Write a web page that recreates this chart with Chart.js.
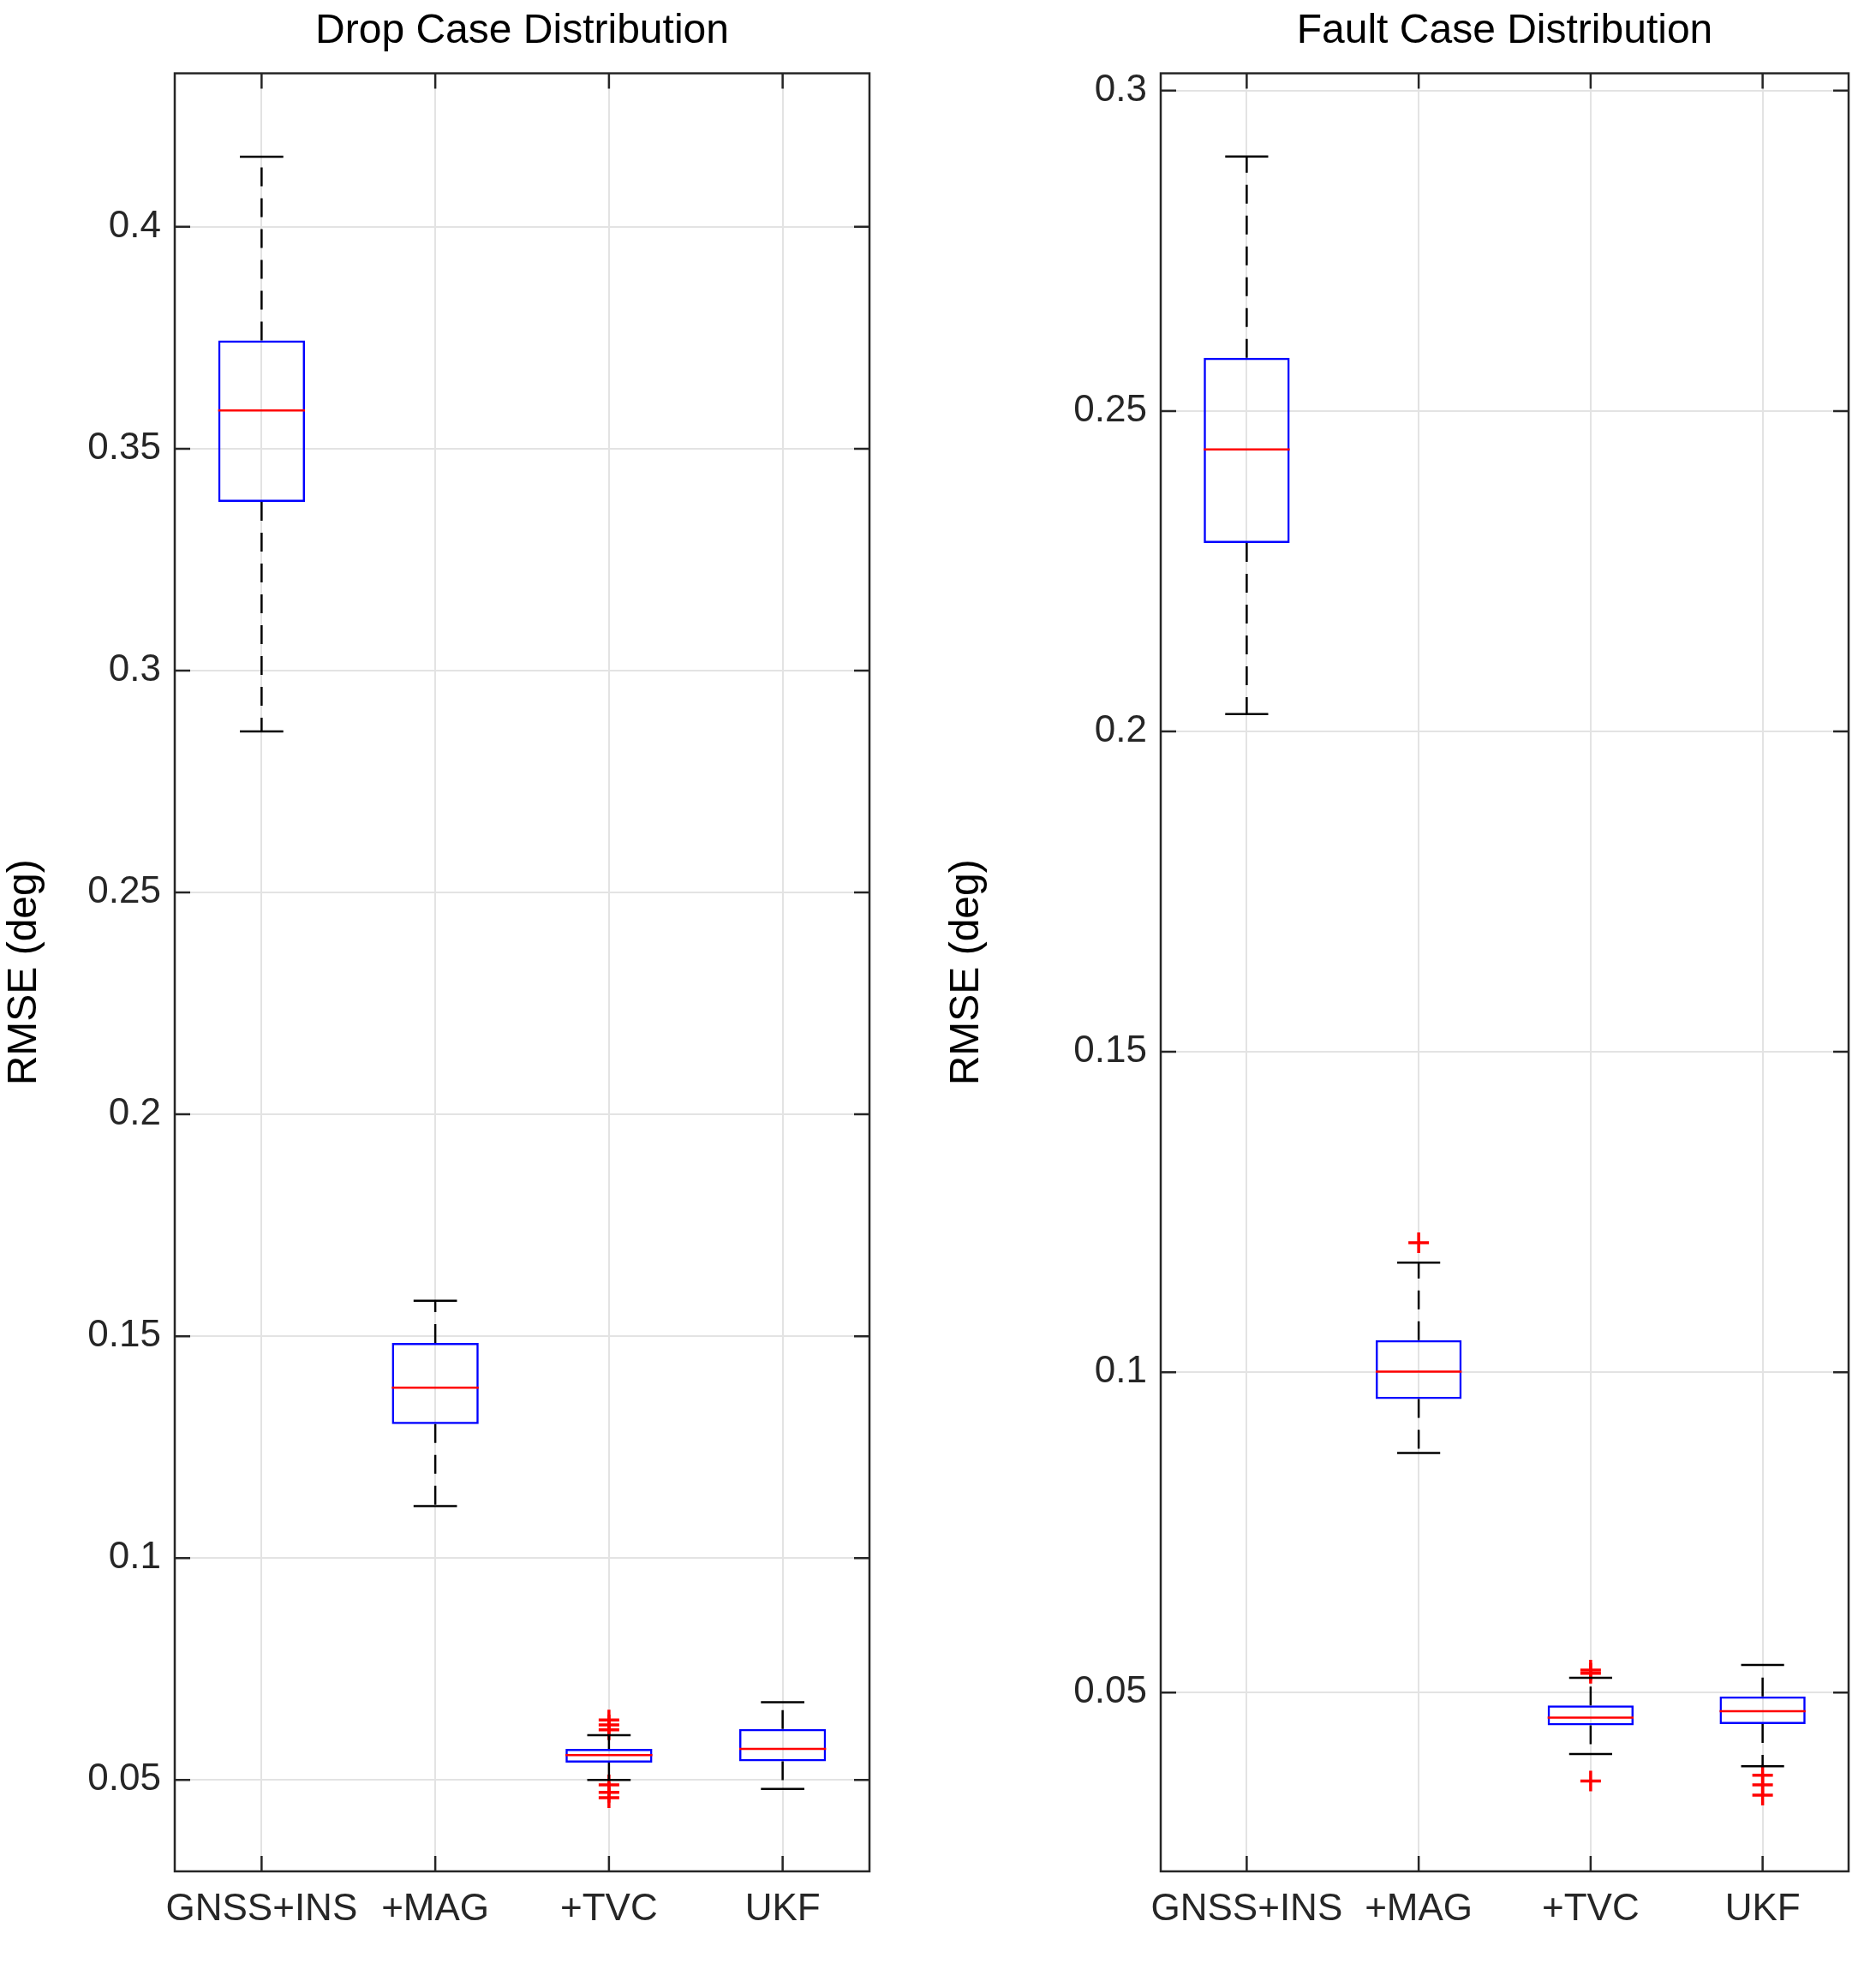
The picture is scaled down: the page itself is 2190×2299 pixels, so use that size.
<!DOCTYPE html>
<html>
<head>
<meta charset="utf-8">
<script src="https://cdn.jsdelivr.net/npm/chart.js@4.4.1/dist/chart.umd.min.js"></script>
<style>
  body { margin: 0; background: #fff; }
  #wrap { position: relative; width: 2190px; height: 2299px; }
  .panel { position: absolute; top: 0; height: 2299px; }
</style>
</head>
<body>
<div id="wrap">
  <div class="panel" style="left:0;width:1040px"><canvas id="dropChart"></canvas></div>
  <div class="panel" style="left:1100px;width:1090px"><canvas id="faultChart"></canvas></div>
</div>
<script>
const categories = ['GNSS+INS', '+MAG', '+TVC', 'UKF'];

// Drop case: [lowWhisker, q1, median, q3, highWhisker]
const dropLow = [0.2863, 0.1117, 0.0500, 0.0480];
const dropQ1 = [0.3380, 0.1302, 0.0539, 0.0542];
const dropMedian = [0.3586, 0.1384, 0.0556, 0.0570];
const dropQ3 = [0.3744, 0.1485, 0.0570, 0.0615];
const dropHigh = [0.4158, 0.1580, 0.0601, 0.0675];
const dropOutliers = [
  ['+TVC', 0.0635], ['+TVC', 0.0624], ['+TVC', 0.0613],
  ['+TVC', 0.0489], ['+TVC', 0.0472], ['+TVC', 0.0460]
];

// Fault case
const faultLow = [0.2027, 0.0874, 0.0404, 0.0385];
const faultQ1 = [0.2294, 0.0958, 0.0449, 0.0451];
const faultMedian = [0.2440, 0.1001, 0.0461, 0.0471];
const faultQ3 = [0.2583, 0.1050, 0.0480, 0.0494];
const faultHigh = [0.2897, 0.1171, 0.0523, 0.0543];
const faultOutliers = [
  ['+MAG', 0.1202],
  ['+TVC', 0.0535], ['+TVC', 0.0530], ['+TVC', 0.0362],
  ['UKF', 0.0371], ['UKF', 0.0356], ['UKF', 0.0340]
];

const yTicks = [0.05, 0.1, 0.15, 0.2, 0.25, 0.3, 0.35, 0.4];
const FONT = "'Liberation Sans', Arial, sans-serif";

// whiskers, caps, medians and the MATLAB-style frame
const boxPlugin = {
  id: 'boxExtras',
  afterDatasetsDraw(chart) {
    const c = chart.ctx, ca = chart.chartArea;
    const xs = chart.scales.x, ys = chart.scales.y;
    const st = chart.options.plugins.boxExtras;
    const bars = chart.getDatasetMeta(0).data;
    c.save();
    bars.forEach((bar, i) => {
      const x = bar.x, hw = bar.width / 2;
      const yq1 = ys.getPixelForValue(st.q1[i]), yq3 = ys.getPixelForValue(st.q3[i]);
      const yLo = ys.getPixelForValue(st.low[i]), yHi = ys.getPixelForValue(st.high[i]);
      const yMed = ys.getPixelForValue(st.median[i]);
      c.strokeStyle = '#000'; c.lineWidth = 2.5;
      c.setLineDash([22, 14]);
      c.beginPath();
      c.moveTo(x, yq3); c.lineTo(x, yHi);
      c.moveTo(x, yq1); c.lineTo(x, yLo);
      c.stroke();
      c.setLineDash([]);
      c.beginPath();
      c.moveTo(x - hw / 2, yHi); c.lineTo(x + hw / 2, yHi);
      c.moveTo(x - hw / 2, yLo); c.lineTo(x + hw / 2, yLo);
      c.stroke();
      c.strokeStyle = '#ff0000';
      c.beginPath();
      c.moveTo(x - hw, yMed); c.lineTo(x + hw, yMed);
      c.stroke();
    });
    // frame and inward ticks
    c.strokeStyle = '#262626'; c.lineWidth = 2.5;
    c.strokeRect(ca.left, ca.top, ca.right - ca.left, ca.bottom - ca.top);
    c.beginPath();
    categories.forEach((_, i) => {
      const x = xs.getPixelForValue(i);
      c.moveTo(x, ca.bottom); c.lineTo(x, ca.bottom - 18);
      c.moveTo(x, ca.top); c.lineTo(x, ca.top + 18);
    });
    ys.ticks.forEach(t => {
      const y = ys.getPixelForValue(t.value);
      c.moveTo(ca.left, y); c.lineTo(ca.left + 18, y);
      c.moveTo(ca.right, y); c.lineTo(ca.right - 18, y);
    });
    c.stroke();
    c.restore();
  }
};

function makeChart(id, title, low, q1, median, q3, high, outliers, yMin, yMax, yWidth, padRight) {
  const ticks = yTicks.filter(v => v >= yMin && v <= yMax);
  new Chart(document.getElementById(id), {
    type: 'bar',
    data: {
      labels: categories,
      datasets: [{
        data: q1.map((v, i) => [v, q3[i]]),
        backgroundColor: 'rgba(0,0,0,0)',
        borderColor: '#0000ff',
        borderWidth: 2.5,
        borderSkipped: false,
        categoryPercentage: 1,
        barPercentage: 0.5
      }, {
        type: 'line',
        data: outliers.map(o => ({ x: o[0], y: o[1] })),
        showLine: false,
        pointStyle: 'cross',
        pointRadius: 12,
        pointBorderWidth: 3.5,
        pointBorderColor: '#ff0000',
        pointBackgroundColor: '#ff0000'
      }]
    },
    options: {
      responsive: true,
      maintainAspectRatio: false,
      animation: false,
      layout: { padding: { right: padRight, top: 0 } },
      plugins: {
        legend: { display: false },
        tooltip: { enabled: false },
        title: {
          display: true,
          fullSize: false,
          text: title,
          color: '#000',
          font: { family: FONT, size: 48, weight: 'normal' },
          padding: { top: 8, bottom: 20 }
        },
        boxExtras: { low, q1, median, q3, high }
      },
      scales: {
        x: {
          offset: true,
          grid: { offset: false, color: '#e3e3e3', lineWidth: 2, tickLength: 0 },
          border: { display: false },
          ticks: { color: '#262626', font: { family: FONT, size: 44 }, padding: 18, maxRotation: 0, autoSkip: false },
          afterFit(s) { s.height = 114; }
        },
        y: {
          min: yMin,
          max: yMax,
          grid: { color: '#e3e3e3', lineWidth: 2, tickLength: 0 },
          border: { display: false },
          afterBuildTicks(s) { s.ticks = ticks.map(v => ({ value: v })); },
          ticks: {
            color: '#262626',
            font: { family: FONT, size: 44 },
            padding: 16,
            callback: v => String(+v.toFixed(2))
          },
          title: {
            display: true,
            text: 'RMSE (deg)',
            color: '#000',
            font: { family: FONT, size: 48 },
            padding: { top: 0, bottom: 0 }
          },
          afterFit(s) { s.width = yWidth; }
        }
      }
    },
    plugins: [boxPlugin]
  });
}

makeChart('dropChart', 'Drop Case Distribution', dropLow, dropQ1, dropMedian, dropQ3, dropHigh,
  dropOutliers, 0.0294, 0.4346, 204, 25);
makeChart('faultChart', 'Fault Case Distribution', faultLow, faultQ1, faultMedian, faultQ3, faultHigh,
  faultOutliers, 0.0221, 0.3027, 255, 32);
</script>
</body>
</html>
